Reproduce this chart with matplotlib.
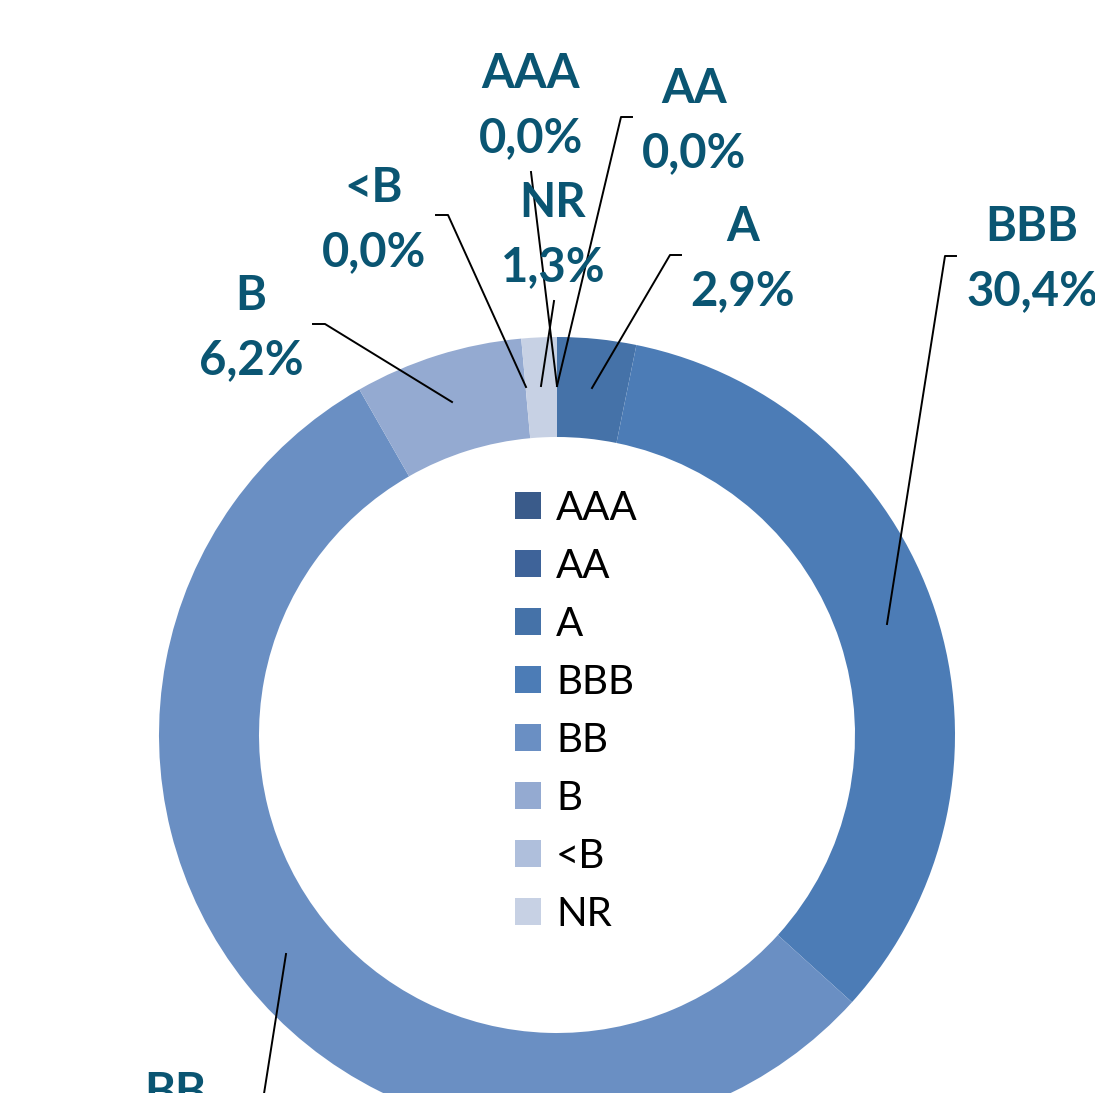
import matplotlib
matplotlib.use('Agg')  # noqa
import matplotlib.pyplot as plt

# rating buckets and their share of the portfolio (percent);
# the shares do not add up to 100, the ring shows them relative to each other
ratings = ['AAA', 'AA', 'A', 'BBB', 'BB', 'B', '<B', 'NR']
shares = [0.0, 0.0, 2.9, 30.4, 49.9, 6.2, 0.0, 1.3]
colors = ['#3A5B8A', '#3E6399', '#4572A8', '#4C7CB6',
          '#6A8FC3', '#94AAD1', '#AFBFDC', '#C7D1E4']

# label placement in pixel coordinates (centre of the two-line text)
label_pos = {'AAA': (531, 106), 'AA': (694, 121), 'A': (743, 259),
             'BBB': (1032, 259), 'BB': (175, 1125), 'B': (251, 328),
             '<B': (374, 220), 'NR': (553, 235)}
# leader lines: points from the label end to the ring
leaders = {'AAA': [(531, 172), (557, 386)],
           'AA': [(632, 117), (621, 117), (557, 386)],
           'A': [(681, 255), (670, 255), (592, 388)],
           'BBB': [(956, 256), (945, 256), (887, 624)],
           'BB': [(286, 954), (263, 1100)],
           'B': [(313, 324), (325, 324), (452, 402)],
           '<B': [(436, 215), (448, 215), (526, 387)],
           'NR': [(554, 301), (541, 386)]}

W, H = 1095, 1093
fig = plt.figure(figsize=(W / 100, H / 100), dpi=100)
ax = fig.add_axes([0, 0, 1, 1])

wedges, _ = ax.pie(shares, colors=colors, center=(557, 735), radius=398,
                   startangle=-90, counterclock=True,
                   wedgeprops=dict(width=100, linewidth=0))
ax.set_xlim(0, W)
ax.set_ylim(H, 0)
ax.set_aspect('equal')
ax.axis('off')

for r, v in zip(ratings, shares):
    x, y = label_pos[r]
    txt = r + '\n' + ('%.1f' % v).replace('.', ',') + '%'
    ax.text(x, y, txt, ha='center', va='center', fontsize=34,
            fontweight='bold', family='Lato', color='#0A5572',
            linespacing=1.58, clip_on=False)
    xs = [p[0] for p in leaders[r]]
    ys = [p[1] for p in leaders[r]]
    ax.plot(xs, ys, color='black', lw=1.4)

leg = ax.legend(wedges, ratings, loc='upper left',
                bbox_to_anchor=(515, 490), bbox_transform=ax.transData,
                frameon=False, prop={'family': 'Lato', 'size': 29},
                handlelength=0.65, handleheight=0.65, handletextpad=0.37,
                labelspacing=0.52, borderaxespad=0, borderpad=0)

fig.savefig('out.png', dpi=100)
